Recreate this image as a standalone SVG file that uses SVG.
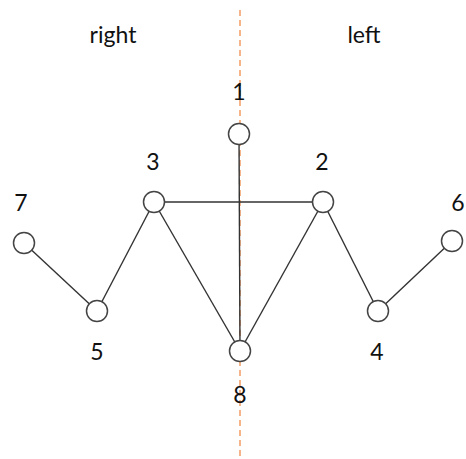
<svg xmlns="http://www.w3.org/2000/svg" width="466" height="459" viewBox="0 0 466 459">
<style>
.n{fill:#fff;stroke:#444;stroke-width:1.5}
.e{stroke:#333;stroke-width:1.4;fill:none}
.t{font-family:Lato,"Open Sans",sans-serif;font-size:23px;fill:#111;text-anchor:middle}
</style>
<rect width="466" height="459" fill="#fff"/>
<line x1="240" y1="10" x2="240" y2="459" stroke="#F4A26C" stroke-width="1.6" stroke-dasharray="6,4"/>
<text class="t" x="113" y="43">right</text>
<text class="t" x="364" y="43">left</text>
<g id="edges">
<line class="e" x1="239" y1="134" x2="240" y2="351"/>
<line class="e" x1="154" y1="202" x2="323" y2="202"/>
<line class="e" x1="154" y1="202" x2="97" y2="311"/>
<line class="e" x1="154" y1="202" x2="240" y2="351"/>
<line class="e" x1="323" y1="202" x2="240" y2="351"/>
<line class="e" x1="323" y1="202" x2="378" y2="311"/>
<line class="e" x1="24" y1="243" x2="97" y2="311"/>
<line class="e" x1="452" y1="241" x2="378" y2="311"/>
</g>
<g id="n1"><circle class="n" cx="239" cy="134" r="10.5"/><text class="t" x="239" y="100">1</text></g>
<g id="n2"><circle class="n" cx="323" cy="202" r="10.5"/><text class="t" x="322" y="170">2</text></g>
<g id="n3"><circle class="n" cx="154" cy="202" r="10.5"/><text class="t" x="153" y="170">3</text></g>
<g id="n4"><circle class="n" cx="378" cy="311" r="10.5"/><text class="t" x="377" y="360">4</text></g>
<g id="n5"><circle class="n" cx="97" cy="311" r="10.5"/><text class="t" x="97" y="360">5</text></g>
<g id="n6"><circle class="n" cx="452" cy="241" r="10.5"/><text class="t" x="458" y="211">6</text></g>
<g id="n7"><circle class="n" cx="24" cy="243" r="10.5"/><text class="t" x="21" y="211">7</text></g>
<g id="n8"><circle class="n" cx="240" cy="351" r="10.5"/><text class="t" x="240" y="403">8</text></g>
</svg>
